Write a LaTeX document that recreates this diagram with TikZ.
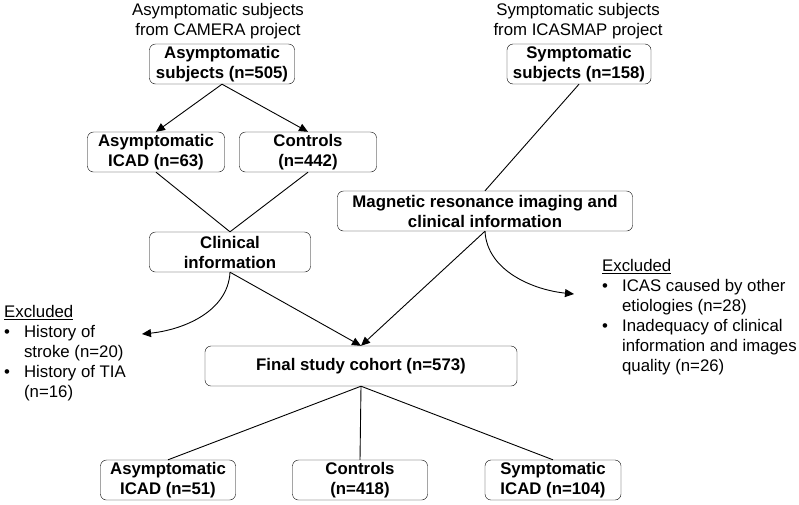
\documentclass[tikz,border=0pt]{standalone}
\usepackage{fontspec}
\setmainfont{Liberation Sans}
\usetikzlibrary{arrows.meta}

\begin{document}
\begin{tikzpicture}[
    x=1pt, y=-1pt,
    >={Triangle[length=9pt,width=8pt]},
    box/.style={draw, rounded corners=6pt, align=center, inner sep=1pt,
                font=\fontsize{16.8}{20}\selectfont\bfseries,
                minimum height=40pt, minimum width=#1},
    box/.default=137pt,
    title/.style={align=center, inner sep=0pt,
                  font=\fontsize{16.8}{20}\selectfont},
    excl/.style={anchor=north west, inner sep=0pt,
                 font=\fontsize{16.8}{20}\selectfont},
    arr/.style={->, line width=0.9pt},
    ln/.style={line width=0.9pt},
  ]
  \useasboundingbox (0,0) rectangle (799,504);

  % Source cohorts
  \node[title] (camera) at (218,21) {Asymptomatic subjects\\from CAMERA project};
  \node[title] (icasmap) at (578,21) {Symptomatic subjects\\from ICASMAP project};
  \node[box=145pt] (asym) at (222,64) {Asymptomatic\\subjects (n=505)};
  \node[box=144pt] (sym) at (579,64) {Symptomatic\\subjects (n=158)};

  % Asymptomatic split
  \node[box] (aicad) at (156,152) {Asymptomatic\\ICAD (n=63)};
  \node[box] (ctrl) at (308,152) {Controls\\(n=442)};
  \node[box=161pt] (clin) at (230,252) {Clinical\\information};

  % Symptomatic screening
  \node[box=295pt] (mri) at (485,211)
    {Magnetic resonance imaging and\\clinical information};

  % Final cohort and groups
  \node[box=312pt] (final) at (361,366) {Final study cohort (n=573)};
  \node[box=135pt] (gasym) at (168,480) {Asymptomatic\\ICAD (n=51)};
  \node[box=135pt] (gctrl) at (360,480) {Controls\\(n=418)};
  \node[box=136pt] (gsym) at (553,480) {Symptomatic\\ICAD (n=104)};

  % Exclusions
  \node[excl] (exleft) at (4,303) {%
    \begin{tabular}{@{}l@{\hspace{14pt}}l@{}}
      \multicolumn{2}{@{}l}{\underline{Excluded}}\\
      \textbullet & History of\\
                  & stroke (n=20)\\
      \textbullet & History of TIA\\
                  & (n=16)
    \end{tabular}};
  \node[excl] (exright) at (602,257) {%
    \begin{tabular}{@{}l@{\hspace{14pt}}l@{}}
      \multicolumn{2}{@{}l}{\underline{Excluded}}\\
      \textbullet & ICAS caused by other\\
                  & etiologies (n=28)\\
      \textbullet & Inadequacy of clinical\\
                  & information and images\\
                  & quality (n=26)
    \end{tabular}};
  \coordinate (exl) at (142,334);
  \coordinate (exr) at (574,294);

  \draw[arr] (asym.south) -- (aicad.north);
  \draw[arr] (asym.south) -- (ctrl.north);
  \draw[ln] (aicad.south) -- (clin.north);
  \draw[ln] (ctrl.south) -- (clin.north);
  \draw[ln] (sym.south) -- (mri.north);
  \draw[arr] (clin.south) -- (final.north);
  \draw[arr] (mri.south) -- (final.north);
  \draw[arr] (clin.south) .. controls +(-2,40) and +(40,-4) .. (exl);
  \draw[arr] (mri.south) .. controls +(2,40) and +(-40,-4) .. (exr);
  \draw[ln] (final.south) -- (gasym.north);
  \draw[ln] (final.south) -- (gctrl.north);
  \draw[ln] (final.south) -- (gsym.north);
\end{tikzpicture}
\end{document}
